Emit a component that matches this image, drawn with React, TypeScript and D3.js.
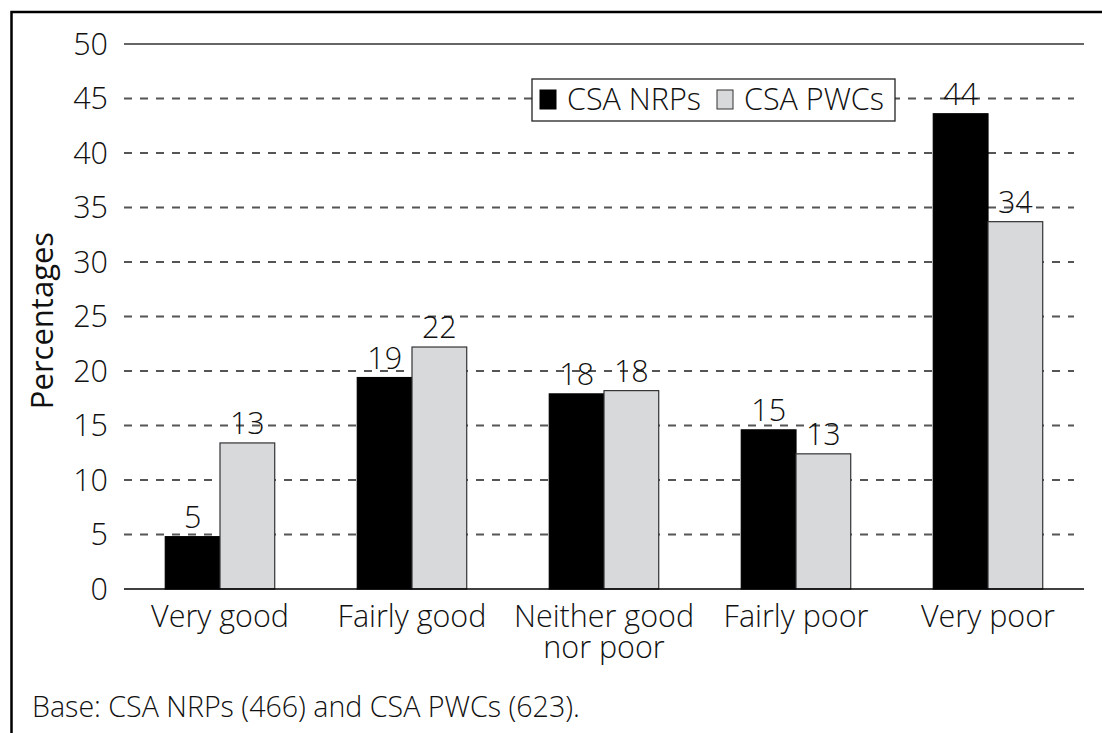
import * as d3 from "d3";

const categories = ["Very good", "Fairly good", "Neither good nor poor", "Fairly poor", "Very poor"];
const categoryLines = [["Very good"], ["Fairly good"], ["Neither good", "nor poor"], ["Fairly poor"], ["Very poor"]];
const seriesNames = ["CSA NRPs", "CSA PWCs"];
const nrpValues = [4.8, 19.4, 17.9, 14.6, 43.6];
const pwcValues = [13.4, 22.2, 18.2, 12.4, 33.7];
const nrpLabels = ["5", "19", "18", "15", "44"];
const pwcLabels = ["13", "22", "18", "13", "34"];
const yTicks = [0, 5, 10, 15, 20, 25, 30, 35, 40, 45, 50];
const footnote = "Base: CSA NRPs (466) and CSA PWCs (623).";

const colors = ["#000000", "#d8d9db"];
const font = "'Open Sans', 'Noto Sans', sans-serif";
const fs = 30.5;

const App = () => {
  const width = 1102;
  const height = 733;
  const margin = { left: 124, right: 18, top: 44, bottom: 144 };

  const x = d3
    .scaleBand()
    .domain(categories)
    .range([margin.left, width - margin.right])
    .paddingInner(0.43)
    .paddingOuter(0.215);
  const x1 = d3.scaleBand().domain(seriesNames).range([0, x.bandwidth()]);
  const y = d3.scaleLinear().domain([0, 50]).range([height - margin.bottom, margin.top]);

  const series = [
    { name: seriesNames[0], values: nrpValues, labels: nrpLabels, color: colors[0] },
    { name: seriesNames[1], values: pwcValues, labels: pwcLabels, color: colors[1] },
  ];

  return (
    <svg
      width={width}
      height={height}
      style={{ position: "absolute", left: 0, top: 0, background: "#fff" }}
      fontFamily={font}
      fontWeight={300}
    >
      {/* frame */}
      <rect x={11.5} y={12} width={1120} height={760} fill="none" stroke="#000" strokeWidth={2.5} />

      {/* grid */}
      {yTicks.map((t) => (
        <g key={t}>
          {t > 0 && (
            <line
              x1={margin.left}
              x2={t === 50 ? width - margin.right : width - margin.right - 10}
              y1={y(t)}
              y2={y(t)}
              stroke={t === 50 ? "#333" : "#555"}
              strokeWidth={t === 50 ? 1.3 : 1.8}
              strokeDasharray={t === 50 ? undefined : "8,8"}
            />
          )}
          <text x={108} y={y(t)} dy="0.36em" textAnchor="end" fontSize={fs} fill="#111">
            {t}
          </text>
        </g>
      ))}

      {/* bars */}
      {categories.map((c, i) => (
        <g key={c} transform={`translate(${x(c)},0)`}>
          {series.map((s) => (
            <g key={s.name}>
              <rect
                x={x1(s.name)}
                y={y(s.values[i])}
                width={x1.bandwidth()}
                height={y(0) - y(s.values[i])}
                fill={s.color}
                stroke={s.color === "#000000" ? "#000" : "#333"}
                strokeWidth={1.2}
              />
              <text
                x={(x1(s.name) ?? 0) + x1.bandwidth() / 2}
                y={y(s.values[i]) - 9}
                textAnchor="middle"
                fontSize={fs}
                fill="#111"
              >
                {s.labels[i]}
              </text>
            </g>
          ))}
        </g>
      ))}

      {/* baseline */}
      <line x1={margin.left} x2={width - margin.right} y1={y(0)} y2={y(0)} stroke="#000" strokeWidth={1.5} />

      {/* category labels */}
      {categories.map((c, i) =>
        categoryLines[i].map((l, j) => (
          <text
            key={`${c}-${j}`}
            x={(x(c) ?? 0) + x.bandwidth() / 2}
            y={y(0) + 38 + j * 31}
            textAnchor="middle"
            fontSize={fs}
            fill="#111"
          >
            {l}
          </text>
        ))
      )}

      {/* y axis title */}
      <text
        transform={`translate(53,${(y(0) + y(50)) / 2 + 4}) rotate(-90)`}
        textAnchor="middle"
        fontSize={31}
        fontWeight={400}
        fill="#111"
      >
        Percentages
      </text>

      {/* legend */}
      <g transform="translate(532,79)">
        <rect x={0} y={0} width={363} height={42} fill="#fff" stroke="#222" strokeWidth={1.3} />
        <rect x={8} y={11} width={16} height={19} fill={colors[0]} stroke="#000" />
        <text x={35} y={31} fontSize={fs} fill="#111">
          {seriesNames[0]}
        </text>
        <rect x={185} y={11} width={16} height={19} fill={colors[1]} stroke="#333" />
        <text x={212} y={31} fontSize={fs} fill="#111">
          {seriesNames[1]}
        </text>
      </g>

      {/* footnote */}
      <text x={32} y={717} fontSize={28.6} fill="#111">
        {footnote}
      </text>
    </svg>
  );
};

export default App;
